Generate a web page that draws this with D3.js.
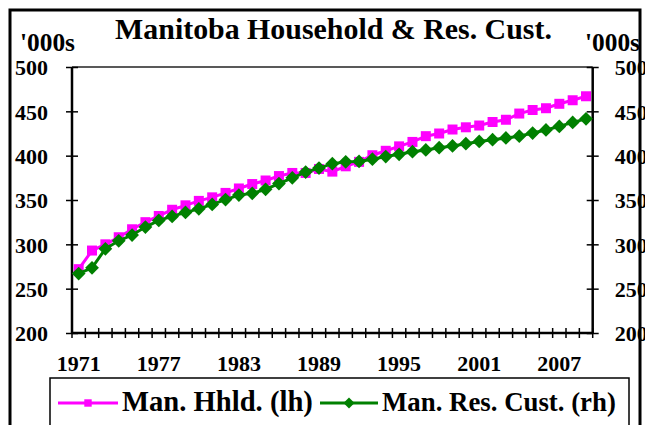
<!DOCTYPE html>
<html>
<head>
<meta charset="utf-8">
<title>Manitoba Household & Res. Cust.</title>
<script src="https://d3js.org/d3.v7.min.js"></script>
<style>
  body { margin: 0; background: #fff; }
  svg text { font-family: "Liberation Serif", "Times New Roman", serif; font-weight: bold; fill: #000; }
</style>
</head>
<body>
<svg id="chart" width="645" height="425"></svg>
<script>
// categories (years) and the two series, in thousands
const years = [1971, 1972, 1973, 1974, 1975, 1976, 1977, 1978, 1979, 1980,
               1981, 1982, 1983, 1984, 1985, 1986, 1987, 1988, 1989, 1990,
               1991, 1992, 1993, 1994, 1995, 1996, 1997, 1998, 1999, 2000,
               2001, 2002, 2003, 2004, 2005, 2006, 2007, 2008, 2009];
const households = [272, 293, 300, 308, 317, 325, 332, 339, 344, 349,
                    353, 358, 363, 368, 372, 377, 380.5, 380.5, 385, 382,
                    388, 393, 400.5, 405.5, 410.5, 415.5, 422, 425, 429.5, 432,
                    434, 438, 440.5, 447.5, 451.5, 453.5, 458.5, 462.5, 467];
const resCustomers = [267, 273.5, 295, 304, 310.5, 319.5, 327, 331.5, 336, 340,
                      345, 350.5, 355.5, 357.5, 362, 368.5, 375, 381.5, 386, 391,
                      393, 393.5, 396, 399, 401.5, 404.5, 406.5, 409, 411, 413.5,
                      416, 418, 420, 422, 425.5, 429, 433, 437.5, 441.5];
const yearLabels = [1971, 1977, 1983, 1989, 1995, 2001, 2007];
const valueTicks = [200, 250, 300, 350, 400, 450, 500];

const seriesNames = ["Man. Hhld. (lh)", "Man. Res. Cust. (rh)"];
const pink = "#ff00ff", green = "#008000";

const svg = d3.select("#chart");
const plot = { left: 72, right: 592.7, top: 67, bottom: 333 };

// shrink or grow a text node's font so it spans the given width
function fitWidth(sel, width) {
    const size = +sel.attr("font-size");
    const w = sel.node().getComputedTextLength();
    sel.attr("font-size", size * width / w);
    return sel;
}

// outer frame
svg.append("rect")
    .attr("x", 10).attr("y", 10)
    .attr("width", 630).attr("height", 440)
    .attr("fill", "none").attr("stroke", "#000").attr("stroke-width", 3);

const x = d3.scaleBand().domain(years).range([plot.left, plot.right]).padding(0);
const y = d3.scaleLinear().domain([200, 500]).range([plot.bottom, plot.top]);
const yRight = d3.scaleLinear().domain([200, 500]).range([plot.bottom, plot.top]);

// title and units
fitWidth(svg.append("text")
    .attr("x", 333.5).attr("y", 39)
    .attr("text-anchor", "middle")
    .attr("font-size", 25)
    .text("Manitoba Household & Res. Cust."), 437);
fitWidth(svg.append("text").attr("x", 20).attr("y", 51).attr("font-size", 22).text("'000s"), 55);
fitWidth(svg.append("text").attr("x", 585).attr("y", 51).attr("font-size", 22).text("'000s"), 55);

// plot frame top
svg.append("line")
    .attr("x1", plot.left).attr("x2", plot.right)
    .attr("y1", plot.top).attr("y2", plot.top)
    .attr("stroke", "#222").attr("stroke-width", 1.5);

// left axis
const leftAxis = svg.append("g")
    .attr("transform", `translate(${plot.left},0)`)
    .call(d3.axisLeft(y).tickValues(valueTicks).tickSize(6).tickPadding(18));
// right axis
const rightAxis = svg.append("g")
    .attr("transform", `translate(${plot.right},0)`)
    .call(d3.axisRight(yRight).tickValues(valueTicks).tickSize(6).tickPadding(16));

[leftAxis, rightAxis].forEach(g => {
    g.select(".domain").attr("stroke", "#000").attr("stroke-width", 2.5)
        .attr("d", `M0,${plot.top}V${plot.bottom}`);
    g.selectAll(".tick line").attr("x1", -6).attr("x2", 6).attr("stroke", "#000").attr("stroke-width", 1.5);
    g.selectAll(".tick text")
        .attr("font-family", "Liberation Serif, serif")
        .attr("font-weight", "bold")
        .attr("font-size", 22)
        .attr("dy", "0.36em");
});

// bottom axis: labels every sixth year, ticks between categories
const bottomAxis = svg.append("g")
    .attr("transform", `translate(0,${plot.bottom})`)
    .call(d3.axisBottom(x).tickValues(yearLabels).tickSize(0).tickPadding(38));
bottomAxis.select(".domain").attr("stroke", "#000").attr("stroke-width", 2.5)
    .attr("d", `M${plot.left},0H${plot.right}`);
bottomAxis.selectAll(".tick text")
    .attr("font-family", "Liberation Serif, serif")
    .attr("font-weight", "bold")
    .attr("font-size", 22)
    .attr("dy", "0");
bottomAxis.selectAll("line.cat")
    .data(years.map(d => x(d)).concat([plot.right]))
    .enter().append("line")
    .attr("class", "cat")
    .attr("x1", d => d).attr("x2", d => d)
    .attr("y1", -5).attr("y2", 5)
    .attr("stroke", "#000").attr("stroke-width", 1.5);

// series
const cx = d => x(d) + x.bandwidth() / 2;
const series = [
    { name: seriesNames[0], values: households, scale: y, color: pink, symbol: d3.symbolSquare, size: 100, rotate: 0 },
    { name: seriesNames[1], values: resCustomers, scale: yRight, color: green, symbol: d3.symbolSquare, size: 95, rotate: 45 }
];

series.forEach(s => {
    const line = d3.line()
        .x((d, i) => cx(years[i]))
        .y(d => s.scale(d));
    svg.append("path")
        .datum(s.values)
        .attr("fill", "none")
        .attr("stroke", s.color)
        .attr("stroke-width", 3)
        .attr("d", line);
    svg.append("g").selectAll("path")
        .data(s.values)
        .enter().append("path")
        .attr("d", d3.symbol().type(s.symbol).size(s.size))
        .attr("transform", (d, i) => `translate(${cx(years[i])},${s.scale(d)}) rotate(${s.rotate})`)
        .attr("fill", s.color);
});

// legend
svg.append("rect")
    .attr("x", 50).attr("y", 378)
    .attr("width", 579).attr("height", 70)
    .attr("fill", "#fff").attr("stroke", "#000").attr("stroke-width", 1.5);

const legendItems = [
    { s: series[0], x1: 58, x2: 118, tx: 122, tw: 191, msize: 55 },
    { s: series[1], x1: 320, x2: 378, tx: 382, tw: 234, msize: 60 }
];
legendItems.forEach(it => {
    svg.append("line")
        .attr("x1", it.x1).attr("x2", it.x2)
        .attr("y1", 403).attr("y2", 403)
        .attr("stroke", it.s.color).attr("stroke-width", 3);
    svg.append("path")
        .attr("d", d3.symbol().type(it.s.symbol).size(it.msize))
        .attr("transform", `translate(${(it.x1 + it.x2) / 2},403) rotate(${it.s.rotate})`)
        .attr("fill", it.s.color);
    fitWidth(svg.append("text")
        .attr("x", it.tx).attr("y", 411)
        .attr("font-size", 24)
        .text(it.s.name), it.tw);
});
</script>
</body>
</html>
